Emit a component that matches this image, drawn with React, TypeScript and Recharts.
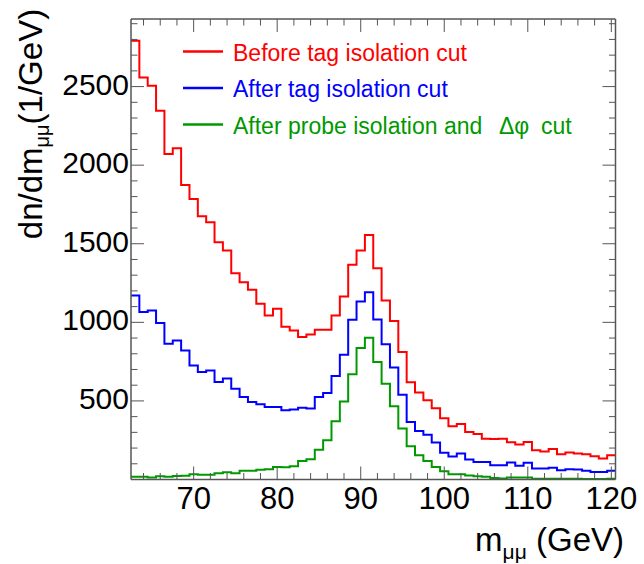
import React from 'react';
import { LineChart, Line, XAxis, YAxis } from 'recharts';

// Bin centres (GeV), 1 GeV bins
const binCenters = [
  63, 64, 65, 66, 67, 68, 69, 70, 71, 72, 73, 74, 75, 76, 77, 78, 79, 80, 81, 82,
  83, 84, 85, 86, 87, 88, 89, 90, 91, 92, 93, 94, 95, 96, 97, 98, 99, 100, 101, 102,
  103, 104, 105, 106, 107, 108, 109, 110, 111, 112, 113, 114, 115, 116, 117, 118, 119, 120,
];

const beforeTagIso = [
  2791, 2558, 2505, 2346, 2071, 2107, 1874, 1785, 1675, 1637, 1510, 1457, 1313, 1255, 1207, 1118, 1044, 1086, 972, 948,
  906, 923, 953, 953, 1044, 1165, 1366, 1457, 1556, 1344, 1139, 1008, 811, 618, 553, 504, 454, 390, 339, 353,
  303, 289, 260, 257, 260, 237, 222, 239, 186, 178, 194, 160, 172, 165, 161, 148, 133, 154,
];

const afterTagIso = [
  1171, 1065, 1076, 995, 864, 885, 821, 726, 684, 694, 620, 642, 578, 525, 493, 478, 461, 461, 440, 445,
  457, 451, 525, 550, 658, 794, 1016, 1133, 1192, 1018, 861, 712, 539, 366, 308, 285, 236, 170, 146, 165,
  127, 112, 112, 91, 91, 108, 88, 106, 70, 70, 74, 59, 66, 63, 55, 48, 48, 55,
];

const afterProbeIso = [
  17, 17, 12, 20, 17, 22, 24, 34, 30, 30, 40, 46, 40, 55, 55, 62, 66, 80, 78, 84,
  118, 129, 190, 250, 370, 497, 669, 836, 902, 747, 610, 466, 324, 212, 154, 118, 80, 52, 34, 34,
  25, 21, 17, 10, 6, 13, 13, 13, 5, 5, 4, 4, 4, 4, 3, 3, 3, 4,
];

const xMajorTicks = [70, 80, 90, 100, 110, 120];
const xMinorTicks = [64, 66, 68, 72, 74, 76, 78, 82, 84, 86, 88, 92, 94, 96, 98, 102, 104, 106, 108, 112, 114, 116, 118];
const yMajorTicks = [500, 1000, 1500, 2000, 2500];
const yMinorTicks = [100, 200, 300, 400, 600, 700, 800, 900, 1100, 1200, 1300, 1400, 1600, 1700, 1800, 1900, 2100, 2200, 2300, 2400, 2600, 2700, 2800, 2900];

const seriesNames = ['Before tag isolation cut', 'After tag isolation cut', 'After probe isolation and'];
const seriesColors = ['#ff0000', '#0000ff', '#009900'];

const xDomain = [62.5, 120.5];
const yDomain = [0, 2930];

const FONT = '"Liberation Sans", Arial, Helvetica, sans-serif';
const FRAME = '#555555';

const last = binCenters.length - 1;
const data = binCenters.map((c, i) => ({
  m: c - 0.5,
  before: beforeTagIso[i],
  afterTag: afterTagIso[i],
  afterProbe: afterProbeIso[i],
}));
data.push({
  m: binCenters[last] + 0.5,
  before: beforeTagIso[last],
  afterTag: afterTagIso[last],
  afterProbe: afterProbeIso[last],
});

const xTicks = [...xMajorTicks, ...xMinorTicks].sort((a, b) => a - b);
const yTicks = [...yMajorTicks, ...yMinorTicks].sort((a, b) => a - b);

const BottomTick = (props: any) => {
  const { x, y, payload } = props;
  const v = payload.value;
  const major = xMajorTicks.includes(v);
  return (
    <g>
      <line x1={x} y1={y} x2={x} y2={y - (major ? 13 : 6.5)} stroke={FRAME} strokeWidth={1} />
      {major && (
        <text x={x} y={y + 29.5} textAnchor="middle" fontSize={31} fontFamily={FONT} fill="#000">
          {v}
        </text>
      )}
    </g>
  );
};

const TopTick = (props: any) => {
  const { x, y, payload } = props;
  const major = xMajorTicks.includes(payload.value);
  return <line x1={x} y1={y} x2={x} y2={y + (major ? 13 : 6.5)} stroke={FRAME} strokeWidth={1} />;
};

const LeftTick = (props: any) => {
  const { x, y, payload } = props;
  const v = payload.value;
  const major = yMajorTicks.includes(v);
  return (
    <g>
      <line x1={x} y1={y} x2={x + (major ? 13 : 6.5)} y2={y} stroke={FRAME} strokeWidth={1} />
      {major && (
        <text x={x - 2} y={y + 8} textAnchor="end" fontSize={30} fontFamily={FONT} fill="#000">
          {v}
        </text>
      )}
    </g>
  );
};

const RightTick = (props: any) => {
  const { x, y, payload } = props;
  const major = yMajorTicks.includes(payload.value);
  return <line x1={x} y1={y} x2={x - (major ? 13 : 6.5)} y2={y} stroke={FRAME} strokeWidth={1} />;
};

export default function App() {
  return (
    <div style={{ position: 'absolute', left: 0, top: 0, width: 644, height: 564, background: '#fff' }}>
      <LineChart
        width={644}
        height={564}
        data={data}
        margin={{ top: 18, right: 27.5, bottom: 0, left: 0 }}
      >
        <XAxis
          xAxisId="bottom"
          dataKey="m"
          type="number"
          domain={xDomain}
          allowDataOverflow
          ticks={xTicks}
          interval={0}
          orientation="bottom"
          height={84.5}
          tickSize={0}
          tickMargin={0}
          tickLine={false}
          axisLine={{ stroke: FRAME, strokeWidth: 1.5 }}
          tick={<BottomTick />}
        />
        <XAxis
          xAxisId="top"
          dataKey="m"
          type="number"
          domain={xDomain}
          allowDataOverflow
          ticks={xTicks}
          interval={0}
          orientation="top"
          height={1}
          tickSize={0}
          tickMargin={0}
          tickLine={false}
          axisLine={{ stroke: FRAME, strokeWidth: 1.5 }}
          tick={<TopTick />}
        />
        <YAxis
          yAxisId="left"
          type="number"
          domain={yDomain}
          allowDataOverflow
          ticks={yTicks}
          interval={0}
          orientation="left"
          width={131}
          tickSize={0}
          tickMargin={0}
          tickLine={false}
          axisLine={{ stroke: FRAME, strokeWidth: 1.5 }}
          tick={<LeftTick />}
        />
        <YAxis
          yAxisId="right"
          type="number"
          domain={yDomain}
          allowDataOverflow
          ticks={yTicks}
          interval={0}
          orientation="right"
          width={1}
          tickSize={0}
          tickMargin={0}
          tickLine={false}
          axisLine={{ stroke: FRAME, strokeWidth: 1.5 }}
          tick={<RightTick />}
        />
        <Line
          xAxisId="bottom"
          yAxisId="left"
          type="stepAfter"
          dataKey="afterProbe"
          stroke={seriesColors[2]}
          strokeWidth={2}
          dot={false}
          isAnimationActive={false}
        />
        <Line
          xAxisId="bottom"
          yAxisId="left"
          type="stepAfter"
          dataKey="afterTag"
          stroke={seriesColors[1]}
          strokeWidth={2}
          dot={false}
          isAnimationActive={false}
        />
        <Line
          xAxisId="bottom"
          yAxisId="left"
          type="stepAfter"
          dataKey="before"
          stroke={seriesColors[0]}
          strokeWidth={2}
          dot={false}
          isAnimationActive={false}
        />
      </LineChart>
      <svg
        width={644}
        height={564}
        style={{ position: 'absolute', left: 0, top: 0, pointerEvents: 'none' }}
      >
        {seriesNames.map((name, i) => (
          <g key={name}>
            <line x1={183} x2={223} y1={51.5 + i * 36.5} y2={51.5 + i * 36.5} stroke={seriesColors[i]} strokeWidth={2.5} />
            <text x={233} y={60.5 + i * 36.5} fontSize={23} fontFamily={FONT} fill={seriesColors[i]}>
              {name}
            </text>
          </g>
        ))}
        <text x={499} y={133.5} fontSize={23} fontFamily={FONT} fill={seriesColors[2]}>
          Δφ
        </text>
        <text x={541} y={133.5} fontSize={23} fontFamily={FONT} fill={seriesColors[2]}>
          cut
        </text>
        <text transform="translate(42,124) rotate(-90)" textAnchor="middle" fontSize={33} fontFamily={FONT} fill="#000">
          dn/dm
          <tspan dy={7} fontSize={20}>μμ</tspan>
          <tspan dy={-7}>(1/GeV)</tspan>
        </text>
        <text x={624} y={551} textAnchor="end" fontSize={33} fontFamily={FONT} fill="#000">
          m
          <tspan dy={8} fontSize={21}>μμ</tspan>
          <tspan dy={-8}> (GeV)</tspan>
        </text>
      </svg>
    </div>
  );
}
